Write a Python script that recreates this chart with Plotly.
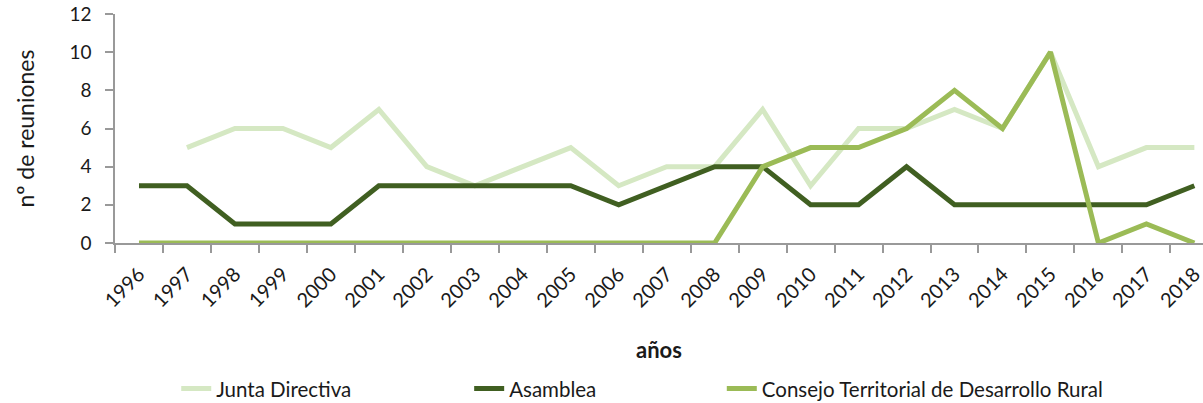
import plotly.graph_objects as go

years = [str(y) for y in range(1996, 2019)]
junta = [None, 5, 6, 6, 5, 7, 4, 3, 4, 5, 3, 4, 4, 7, 3, 6, 6, 7, 6, 10, 4, 5, 5]
asamblea = [3, 3, 1, 1, 1, 3, 3, 3, 3, 3, 2, 3, 4, 4, 2, 2, 4, 2, 2, 2, 2, 2, 3]
consejo = [0, 0, 0, 0, 0, 0, 0, 0, 0, 0, 0, 0, 0, 4, 5, 5, 6, 8, 6, 10, 0, 1, 0]
y_ticks = [0, 2, 4, 6, 8, 10, 12]

FONT = "Lato"
fig = go.Figure()
fig.add_trace(go.Scatter(x=years, y=junta, mode="lines", name="Junta Directiva",
                         line=dict(color="#d5e8c3", width=5), cliponaxis=False,
                         legend="legend"))
fig.add_trace(go.Scatter(x=years, y=asamblea, mode="lines", name="Asamblea",
                         line=dict(color="#405f21", width=5), cliponaxis=False,
                         legend="legend2"))
fig.add_trace(go.Scatter(x=years, y=consejo, mode="lines", name="Consejo Territorial de Desarrollo Rural",
                         line=dict(color="#9bbb56", width=5), cliponaxis=False,
                         legend="legend3"))

leg_common = dict(orientation="h", yref="container", xref="container", y=0.085,
                  xanchor="left", yanchor="top",
                  font=dict(size=20.5), bgcolor="rgba(0,0,0,0)")
fig.update_layout(
    width=1203, height=403,
    margin=dict(l=115, r=0, t=14, b=160, autoexpand=False),
    paper_bgcolor="white", plot_bgcolor="white",
    font=dict(family=FONT, size=18, color="#1a1a1a"),
    showlegend=True,
    legend=dict(x=0.1465, **leg_common),
    legend2=dict(x=0.390, **leg_common),
    legend3=dict(x=0.600, **leg_common),
)
fig.update_xaxes(type="category", range=[-0.5, 22.18], tickson="boundaries",
                 automargin=False,
                 showline=True, linecolor="#999999", linewidth=1.5,
                 ticks="outside", ticklen=8, tickcolor="#999999", tickwidth=1.5,
                 tickangle=-45, tickfont=dict(size=20), showgrid=False,
                 ticklabelstandoff=10,
                 title=dict(text="<b>años</b>", font=dict(size=22), standoff=32))
fig.update_yaxes(range=[0, 12], tickvals=y_ticks, showline=True, linecolor="#999999",
                 automargin=False,
                 linewidth=1.5, ticks="outside", ticklen=8, tickcolor="#999999",
                 tickwidth=1.5, showgrid=False, zeroline=False, tickfont=dict(size=19),
                 ticklabelstandoff=10,
                 title=dict(text="nº de reuniones", font=dict(size=23), standoff=28))

fig.write_html("out.html", config={"displayModeBar": False},
               post_script="document.body.style.margin='0';")
